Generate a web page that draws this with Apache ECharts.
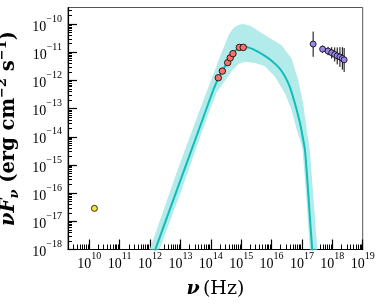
<!DOCTYPE html>
<html>
<head>
<meta charset="utf-8">
<script src="https://cdn.jsdelivr.net/npm/echarts@6/dist/echarts.min.js"></script>
<style>
html,body{margin:0;padding:0;background:#fff;}
#chart{width:382px;height:307px;}
</style>
</head>
<body>
<div id="chart"></div>
<script>
// ---- data ----
const xMajorTicks = [1e10,1e11,1e12,1e13,1e14,1e15,1e16,1e17,1e18,1e19];
const yMajorTicks = [1e-18,1e-17,1e-16,1e-15,1e-14,1e-13,1e-12,1e-11,1e-10];

// model curve (nu, nuFnu)
const modelNu   = [1.26e12,1.46e12,1e13,3.16e13,1e14,1.26e14,1.78e14,2.51e14,3.55e14,5.01e14,7.08e14,8.91e14,1.12e15,1.78e15,3.16e15,6.03e15,1e16,1.66e16,2.51e16,3.55e16,4.68e16,5.89e16,7.24e16,8.71e16,1.10e17,1.26e17,1.51e17,1.82e17,2.19e17,2.34e17];
const modelFlux = [6.03e-19,9.33e-19,2.82e-16,8.51e-15,2.63e-13,5.13e-13,1.20e-12,2.34e-12,4.37e-12,7.94e-12,1.26e-11,1.51e-11,1.58e-11,1.45e-11,1.12e-11,7.41e-12,5.01e-12,3.02e-12,1.66e-12,7.94e-13,3.55e-13,1.51e-13,6.61e-14,2.95e-14,7.94e-15,3.39e-15,2.82e-16,1.45e-17,9.33e-19,3.16e-19];

// uncertainty band edges
const bandUpperNu   = [8.91e11,9.55e11,1e13,6.31e13,1e14,2.0e14,3.98e14,5.62e14,7.94e14,1.17e15,2.0e15,6.03e15,2.14e16,4.57e16,7.59e16,1.10e17,1.45e17,1.82e17,3.24e17,3.55e17];
const bandUpperFlux = [6.31e-19,9.33e-19,1.26e-15,2.63e-13,9.55e-13,6.92e-12,4.37e-11,7.41e-11,9.33e-11,1.0e-10,8.71e-11,4.07e-11,1.78e-11,6.03e-12,1.02e-12,1.51e-13,1.74e-14,3.39e-15,9.33e-19,3.16e-19];
const bandLowerNu   = [1.74e12,2.0e12,1e13,3.98e13,1e14,1.58e14,2.95e14,5.01e14,8.13e14,1.35e15,2.82e15,6.03e15,1.29e16,2.75e16,4.57e16,6.76e16,8.71e16,1.05e17,1.41e17,1.82e17,2.0e17];
const bandLowerFlux = [5.62e-19,9.33e-19,1.0e-16,7.0e-15,1.10e-13,3.80e-13,1.0e-12,2.2e-12,3.80e-12,4.57e-12,4.17e-12,3.16e-12,1.35e-12,3.47e-13,8.91e-14,1.74e-14,7.59e-15,3.39e-15,6.31e-17,9.33e-19,2.51e-19];

// radio point
const radioNu = [1.48e10];
const radioFlux = [2.88e-17];

// optical/UV points
const optNu   = [1.77e14,2.40e14,3.61e14,4.37e14,5.37e14,8.71e14,1.175e15];
const optFlux = [1.24e-12,2.14e-12,4.27e-12,6.31e-12,8.91e-12,1.48e-11,1.48e-11];

// X-ray points with error bars
const xrayNu   = [2.34e17,4.79e17,7.24e17,9.55e17,1.20e18,1.45e18,1.78e18,2.14e18,2.45e18];
const xrayFlux = [1.95e-11,1.29e-11,1.10e-11,9.55e-12,8.32e-12,7.41e-12,6.76e-12,6.03e-12,5.37e-12];
const xrayLo   = [6.9e-12,9.5e-12,7.8e-12,6.0e-12,4.7e-12,3.7e-12,3.0e-12,2.4e-12,2.0e-12];
const xrayHi   = [5.4e-11,1.74e-11,1.55e-11,1.51e-11,1.48e-11,1.48e-11,1.51e-11,1.51e-11,1.42e-11];

const xMinorTicks = [];
xMajorTicks.forEach(d => [2,3,4,5,6,7,8,9].forEach(m => { if (d*m < 1e19) xMinorTicks.push(d*m); }));
[2e9,3e9,4e9,5e9,6e9,7e9,8e9,9e9].forEach(v => xMinorTicks.push(v));
const yMinorTicks = [];
yMajorTicks.forEach(d => [2,3,4,5,6,7,8,9].forEach(m => { if (d*m < 3.8e-10) yMinorTicks.push(d*m); }));

// ---- chart ----
const chart = echarts.init(document.getElementById('chart'), null, {renderer:'canvas'});
const tickFont = 'Liberation Serif';
const tickRich = {
  b: {fontFamily: tickFont, fontSize: 14, lineHeight: 20, verticalAlign: 'bottom', color: '#000'},
  s: {fontFamily: tickFont, fontSize: 10, lineHeight: 11, verticalAlign: 'top', color: '#000'}
};
function fmt(v){
  const e = Math.round(Math.log10(v));
  return '{b|10}{s|' + (e < 0 ? '\u2212' + (-e) : e) + '}';
}
const nameFont = 'DejaVu Serif';

const xMin = 2e9, xMax = 1e19, yMin = 1e-18, yMax = 3.86e-10;

chart.setOption({
  animation: false,
  grid: {left: 68, top: 7.5, width: 294.7, height: 242, show: true, borderColor: '#555', borderWidth: 1,
         containLabel: false, outerBoundsMode: 'none'},
  xAxis: [{
    type: 'log', min: xMin, max: xMax, position: 'bottom',
    axisLine: {show: true, lineStyle: {color: '#000', width: 1.2}},
    axisTick: {show: true, inside: true, length: 10, lineStyle: {color: '#000', width: 1.2}, customValues: xMajorTicks},
    axisLabel: {show: true, margin: 2, align: 'center', customValues: xMajorTicks, formatter: fmt, rich: tickRich},
    splitLine: {show: false},
    name: '{i|\u03BD} {r|(Hz)}', nameLocation: 'middle', nameGap: 30,
    nameTextStyle: {rich: {
      i: {fontFamily: nameFont, fontStyle: 'italic', fontWeight: 'bold', fontSize: 19, color: '#000'},
      r: {fontFamily: nameFont, fontSize: 19, color: '#000'}
    }}
  }, {
    type: 'log', min: xMin, max: xMax, position: 'bottom',
    axisLine: {show: false},
    axisTick: {show: true, inside: true, length: 5, lineStyle: {color: '#000', width: 1}, customValues: xMinorTicks},
    axisLabel: {show: false},
    splitLine: {show: false}
  }],
  yAxis: [{
    type: 'log', min: yMin, max: yMax, position: 'left',
    axisLine: {show: true, lineStyle: {color: '#000', width: 1.2}},
    axisTick: {show: true, inside: true, length: 9, lineStyle: {color: '#000', width: 1.2}, customValues: yMajorTicks},
    axisLabel: {show: true, margin: 6, customValues: yMajorTicks, formatter: fmt, rich: tickRich},
    splitLine: {show: false},
    name: '{i|\u03BDF}{sub|\u03BD}{b| (erg cm}{sup|\u22122}{b| s}{sup|\u22121}{b|)}',
    nameLocation: 'middle', nameGap: 40, nameRotate: 90,
    nameTextStyle: {rich: {
      i: {fontFamily: nameFont, fontStyle: 'italic', fontWeight: 'bold', fontSize: 19.5, lineHeight: 25, verticalAlign: 'middle', color: '#000'},
      b: {fontFamily: nameFont, fontWeight: 'bold', fontSize: 19.5, lineHeight: 25, verticalAlign: 'middle', color: '#000'},
      sub: {fontFamily: nameFont, fontStyle: 'italic', fontWeight: 'bold', fontSize: 13, lineHeight: 18, verticalAlign: 'bottom', color: '#000'},
      sup: {fontFamily: nameFont, fontWeight: 'bold', fontSize: 13, lineHeight: 13, verticalAlign: 'top', color: '#000'}
    }}
  }, {
    type: 'log', min: yMin, max: yMax, position: 'left',
    axisLine: {show: false},
    axisTick: {show: true, inside: true, length: 4, lineStyle: {color: '#000', width: 1}, customValues: yMinorTicks},
    axisLabel: {show: false},
    splitLine: {show: false}
  }],
  series: [
    {
      type: 'custom', name: 'band', clip: true, z: 1,
      data: [[bandUpperNu[0], bandUpperFlux[0]]],
      renderItem: function(params, api){
        const pts = [];
        for (let i = 0; i < bandUpperNu.length; i++) pts.push(api.coord([bandUpperNu[i], bandUpperFlux[i]]));
        for (let i = bandLowerNu.length - 1; i >= 0; i--) pts.push(api.coord([bandLowerNu[i], bandLowerFlux[i]]));
        return {type: 'polygon', shape: {points: pts}, style: {fill: '#b3ebea', stroke: null}};
      }
    },
    {
      type: 'line', name: 'model', z: 3, clip: true, showSymbol: false, smooth: 0.2,
      data: modelNu.map((v, i) => [v, modelFlux[i]]),
      lineStyle: {color: '#10bdb8', width: 2}
    },
    {
      type: 'custom', name: 'xerr', z: 4, clip: true,
      data: xrayNu.map((v, i) => [v, xrayLo[i], xrayHi[i]]),
      renderItem: function(params, api){
        const a = api.coord([api.value(0), api.value(1)]);
        const b = api.coord([api.value(0), api.value(2)]);
        return {type: 'line', shape: {x1: a[0], y1: a[1], x2: b[0], y2: b[1]}, style: {stroke: '#000', lineWidth: 1}};
      }
    },
    {
      type: 'scatter', name: 'radio', z: 5, symbolSize: 6,
      data: radioNu.map((v, i) => [v, radioFlux[i]]),
      itemStyle: {color: '#f7e43a', borderColor: '#000', borderWidth: 0.8, opacity: 1}
    },
    {
      type: 'scatter', name: 'optical', z: 5, symbolSize: 6.5,
      data: optNu.map((v, i) => [v, optFlux[i]]),
      itemStyle: {color: '#f4716c', borderColor: '#000', borderWidth: 0.8, opacity: 1}
    },
    {
      type: 'scatter', name: 'xray', z: 5, symbolSize: 6,
      data: xrayNu.map((v, i) => [v, xrayFlux[i]]),
      itemStyle: {color: '#9b87e8', borderColor: '#000', borderWidth: 0.8, opacity: 1}
    }
  ]
});
</script>
</body>
</html>
